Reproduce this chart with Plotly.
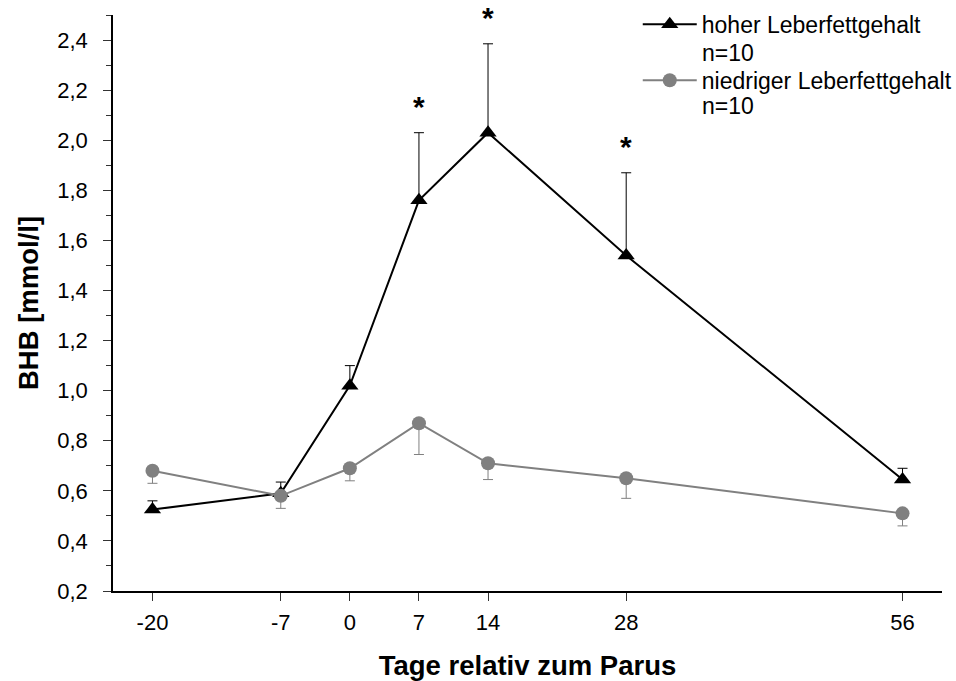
import plotly.graph_objects as go

# Days relative to calving (Parus)
days = [-20, -7, 0, 7, 14, 28, 56]
day_labels = ["-20", "-7", "0", "7", "14", "28", "56"]

# BHB concentration, high liver fat group (mean, upper SD)
high_mean = [0.525, 0.59, 1.02, 1.76, 2.03, 1.54, 0.645]
high_sd = [0.035, 0.045, 0.08, 0.27, 0.355, 0.33, 0.045]

# BHB concentration, low liver fat group (mean, lower SD)
low_mean = [0.68, 0.58, 0.69, 0.87, 0.71, 0.65, 0.51]
low_sd = [0.05, 0.05, 0.05, 0.125, 0.065, 0.08, 0.05]

# Group names and sample sizes
group_names = ["hoher Leberfettgehalt", "niedriger Leberfettgehalt"]
group_n = ["n=10", "n=10"]

# Days with significant group difference
signif_days = [7, 14, 28]

y_ticks = [0.2, 0.4, 0.6, 0.8, 1.0, 1.2, 1.4, 1.6, 1.8, 2.0, 2.2, 2.4]

FONT = "Liberation Sans, Arial, sans-serif"
GREY = "#808080"

fig = go.Figure()

fig.add_trace(go.Scatter(
    x=days, y=high_mean, mode="lines+markers",
    name=group_names[0], legendgroup="high",
    line=dict(color="black", width=2),
    marker=dict(symbol="triangle-up", size=15, color="black"),
    error_y=dict(type="data", symmetric=False, array=high_sd,
                 arrayminus=[0] * len(high_sd),
                 color="black", thickness=1, width=5),
))

fig.add_trace(go.Scatter(
    x=days, y=low_mean, mode="lines+markers",
    name=group_names[1], legendgroup="low",
    line=dict(color=GREY, width=2),
    marker=dict(symbol="circle", size=14, color=GREY),
    error_y=dict(type="data", symmetric=False, array=[0] * len(low_sd),
                 arrayminus=low_sd,
                 color=GREY, thickness=1, width=5),
))

# Significance stars above the upper error bars
for d in signif_days:
    i = days.index(d)
    fig.add_annotation(
        x=d, y=high_mean[i] + high_sd[i], text="<b>*</b>",
        showarrow=False, yanchor="bottom", yshift=8,
        font=dict(family=FONT, size=30, color="black"),
    )

# Sample size line under each legend entry
for k, n_text in enumerate(group_n):
    fig.add_annotation(
        xref="paper", yref="paper", x=0.7094, y=0.934 - k * 0.092,
        text=n_text, showarrow=False, xanchor="left", yanchor="middle",
        font=dict(family=FONT, size=23, color="black"), borderpad=0,
    )

fig.update_layout(
    width=956, height=681,
    margin=dict(l=113, r=14, t=15, b=90, autoexpand=False),
    paper_bgcolor="white", plot_bgcolor="white",
    separators=", ",
    font=dict(family=FONT, size=22, color="black"),
    showlegend=True,
    legend=dict(
        x=0.633, y=1.021, xanchor="left", yanchor="top",
        font=dict(family=FONT, size=23, color="black"),
        bgcolor="rgba(0,0,0,0)", valign="top", itemwidth=54,
        tracegroupgap=23,
    ),
)

fig.update_xaxes(
    range=[-24, 60], tickmode="array", tickvals=days, ticktext=day_labels,
    showgrid=False, zeroline=False, showline=True, linecolor="black",
    linewidth=1.5, ticks="outside", ticklen=8, tickwidth=1.2, tickcolor="#333",
    ticklabelstandoff=3,
    title=dict(text="<b>Tage relativ zum Parus</b>",
               font=dict(family=FONT, size=27.5), standoff=31),
)

fig.update_yaxes(
    range=[0.2, 2.5], tickmode="array", tickvals=y_ticks, tickformat=".1f",
    showgrid=False, zeroline=False, showline=True, linecolor="black",
    linewidth=1.5, ticks="outside", ticklen=8, tickwidth=1.2, tickcolor="#333",
    ticklabelstandoff=11,
    minor=dict(dtick=0.1, tick0=0.2, ticks="outside", ticklen=5,
               tickwidth=1.2, tickcolor="#333"),
    title=dict(text="<b>BHB [mmol/l]</b>",
               font=dict(family=FONT, size=27.5), standoff=11),
)

fig.write_html("out.html")
